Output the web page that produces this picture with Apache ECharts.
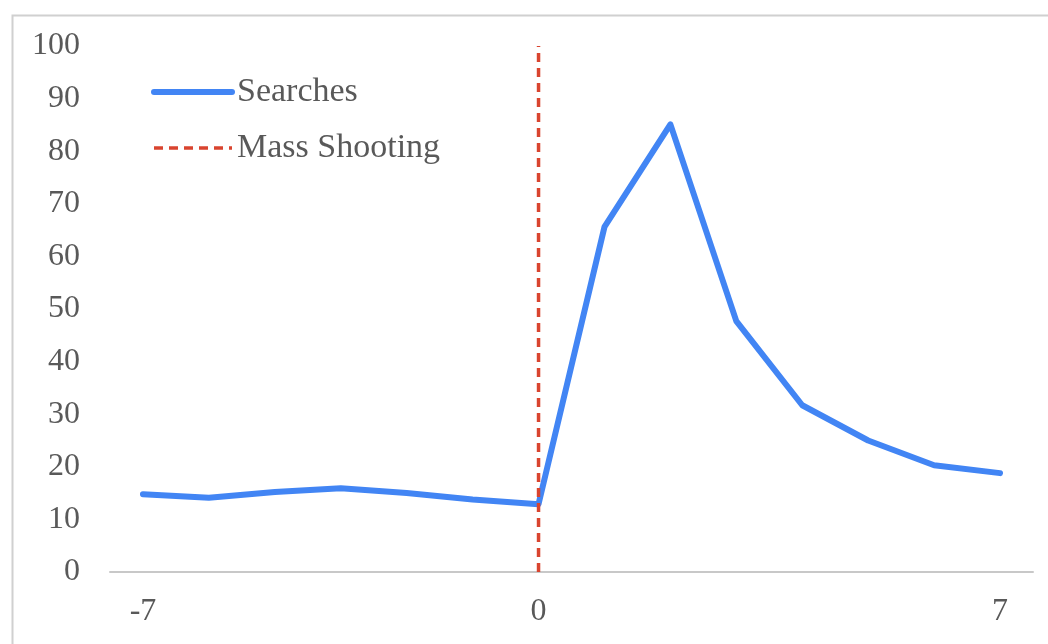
<!DOCTYPE html>
<html>
<head>
<meta charset="utf-8">
<script src="https://cdn.jsdelivr.net/npm/echarts@6/dist/echarts.min.js"></script>
<style>
html, body { margin: 0; padding: 0; background: #fff; }
#chart { width: 1048px; height: 644px; }
</style>
</head>
<body>
<div id="chart"></div>
<script>
// days relative to the shooting (x categories)
var days = ['-7', '-6', '-5', '-4', '-3', '-2', '0', '1', '2', '3', '4', '5', '6', '7'];
// search index values
var searches = [14.8, 14.1, 15.2, 15.9, 15.0, 13.8, 12.9, 65.6, 85.1, 47.7, 31.7, 25.0, 20.3, 18.8];
// labels that are shown on the x axis
var shownDays = ['-7', '0', '7'];
// event marker: day and y range
var shootingDay = '0';
var shootingRange = [0, 100];

var chart = echarts.init(document.getElementById('chart'));

var textColor = '#595959';
var serif = '"Liberation Serif", "Times New Roman", serif';
var blue = '#4285f4';
var red = '#d9442f';

var option = {
  animation: false,
  backgroundColor: '#fff',
  graphic: [{
    type: 'rect',
    left: 10,
    top: 13,
    shape: { width: 1200, height: 800 },
    style: { fill: 'none', stroke: '#d0d0d0', lineWidth: 2 },
    silent: true
  }],
  grid: { left: 110, right: 15, top: 46, bottom: 72 },
  legend: {
    orient: 'vertical',
    left: 146,
    top: 70,
    itemWidth: 78,
    itemHeight: 14,
    itemGap: 22,
    textStyle: { fontFamily: serif, fontSize: 34, color: textColor },
    data: [
      { name: 'Searches', itemStyle: { opacity: 0 }, lineStyle: { width: 6, cap: 'round' } },
      { name: 'Mass Shooting', itemStyle: { opacity: 0 }, lineStyle: { width: 3.5, type: [9, 6] } }
    ]
  },
  xAxis: {
    type: 'category',
    data: days,
    boundaryGap: true,
    axisLine: { lineStyle: { color: '#c8c8c8', width: 2 } },
    axisTick: { show: false },
    axisLabel: {
      interval: function (i, v) { return shownDays.indexOf(v) >= 0; },
      margin: 24,
      fontFamily: serif,
      fontSize: 32,
      color: textColor
    },
    splitLine: { show: false }
  },
  yAxis: {
    type: 'value',
    min: 0,
    max: 100,
    interval: 10,
    axisLine: { show: false },
    axisTick: { show: false },
    splitLine: { show: false },
    axisLabel: { margin: 30, fontFamily: serif, fontSize: 32, color: textColor }
  },
  series: [
    {
      name: 'Searches',
      type: 'line',
      data: searches,
      symbol: 'none',
      lineStyle: { color: blue, width: 6, cap: 'round', join: 'round' },
      itemStyle: { color: blue }
    },
    {
      name: 'Mass Shooting',
      type: 'line',
      data: [[shootingDay, shootingRange[0]], [shootingDay, shootingRange[1]]],
      symbol: 'none',
      lineStyle: { color: red, width: 3.5, type: [9, 6] },
      itemStyle: { color: red }
    }
  ]
};

chart.setOption(option);
</script>
</body>
</html>
